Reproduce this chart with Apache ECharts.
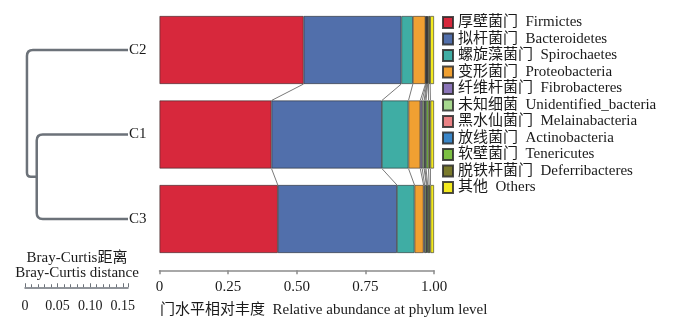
<!DOCTYPE html>
<html>
<head>
<meta charset="utf-8">
<script src="https://cdn.jsdelivr.net/npm/echarts@6/dist/echarts.min.js"></script>
<style>html,body{margin:0;padding:0;background:#fff;}#c{width:700px;height:324px;}</style>
</head>
<body>
<div id="c"></div>
<script>
// ---- data ----
const samples = ['C2', 'C1', 'C3'];
const phylumNames = [
  '厚壁菌门  Firmictes', '拟杆菌门  Bacteroidetes', '螺旋藻菌门  Spirochaetes',
  '变形菌门  Proteobacteria', '纤维杆菌门  Fibrobacteres', '未知细菌  Unidentified_bacteria',
  '黑水仙菌门  Melainabacteria', '放线菌门  Actinobacteria', '软壁菌门  Tenericutes',
  '脱铁杆菌门  Deferribacteres', '其他  Others'
];
const firmicutes      = [0.525, 0.408, 0.431];
const bacteroidetes   = [0.356, 0.402, 0.434];
const spirochaetes    = [0.042, 0.097, 0.064];
const proteobacteria  = [0.046, 0.043, 0.033];
const fibrobacteres   = [0.002, 0.007, 0.004];
const unidentified    = [0.002, 0.007, 0.006];
const melainabacteria = [0.002, 0.003, 0.002];
const actinobacteria  = [0.002, 0.004, 0.003];
const tenericutes     = [0.003, 0.009, 0.005];
const deferribacteres = [0.006, 0.007, 0.005];
const others          = [0.014, 0.013, 0.013];
const xTicks = ['0', '0.25', '0.50', '0.75', '1.00'];
const scaleTicks = ['0', '0.05', '0.10', '0.15'];
// dendrogram: C1 & C3 merge first, then C2 joins
const mergeC1C3 = 0.140;
const mergeRoot = 0.155;

const seriesValues = [firmicutes, bacteroidetes, spirochaetes, proteobacteria, fibrobacteres,
  unidentified, melainabacteria, actinobacteria, tenericutes, deferribacteres, others];
const colors = ['#d7283c', '#516fab', '#3fada4', '#f0a032', '#8a74b8', '#a6d88e',
  '#ea8285', '#3a86c8', '#7cc043', '#7a7a2c', '#f3ea1f'];

const FONT = "'Liberation Serif', 'Noto Sans CJK SC', serif";
const BARW = 68;

// connector data: cumulative boundaries between adjacent samples
const links = [];
for (let j = 0; j < samples.length - 1; j++) {
  let cu = 0, cl = 0;
  for (let k = 0; k < seriesValues.length - 1; k++) {
    cu += seriesValues[k][j];
    cl += seriesValues[k][j + 1];
    links.push([cu, cl, j, j + 1]);
  }
}

const series = seriesValues.map((vals, i) => ({
  name: phylumNames[i],
  type: 'bar',
  stack: 'total',
  barWidth: BARW,
  xAxisIndex: 0, yAxisIndex: 0,
  data: vals,
  itemStyle: { color: colors[i], borderColor: 'rgba(45,45,45,0.85)', borderWidth: 0.7 },
  emphasis: { disabled: true },
  silent: true
}));

series.push({
  type: 'custom',
  xAxisIndex: 0, yAxisIndex: 0,
  silent: true,
  data: links,
  encode: { x: [0, 1], y: [2, 3] },
  renderItem: function (params, api) {
    const a = api.coord([api.value(0), api.value(2)]);
    const b = api.coord([api.value(1), api.value(3)]);
    return {
      type: 'line',
      shape: { x1: a[0], y1: a[1] + BARW / 2, x2: b[0], y2: b[1] - BARW / 2 },
      style: { stroke: '#7a7a7a', lineWidth: 1 }
    };
  }
});

series.push({
  type: 'custom',
  xAxisIndex: 1, yAxisIndex: 1,
  silent: true,
  data: [[0, 0]],
  renderItem: function (params, api) {
    const r = 6;
    const c2 = api.coord([0, 0]);
    const c1 = api.coord([0, 1]);
    const c3 = api.coord([0, 2]);
    const x1 = api.coord([mergeC1C3, 1])[0];
    const x0 = api.coord([mergeRoot, 0])[0];
    const ym = (c1[1] + c3[1]) / 2;
    const p1 = `M${c1[0]},${c1[1]} L${x1 + r},${c1[1]} Q${x1},${c1[1]} ${x1},${c1[1] + r} L${x1},${c3[1] - r} Q${x1},${c3[1]} ${x1 + r},${c3[1]} L${c3[0]},${c3[1]}`;
    const r2 = 4;
    const p2 = `M${c2[0]},${c2[1]} L${x0 + r},${c2[1]} Q${x0},${c2[1]} ${x0},${c2[1] + r} L${x0},${ym - r2} Q${x0},${ym} ${x0 + r2},${ym} L${x1},${ym}`;
    const st = { stroke: '#6c7279', lineWidth: 2.5, fill: null };
    return {
      type: 'group',
      children: [
        { type: 'path', shape: { pathData: p1 }, style: st },
        { type: 'path', shape: { pathData: p2 }, style: st }
      ]
    };
  }
});

const chart = echarts.init(document.getElementById('c'), null, { renderer: 'canvas' });
chart.setOption({
  animation: false,
  backgroundColor: '#fff',
  textStyle: { fontFamily: FONT },
  grid: [
    { left: 159.5, top: 7.75, width: 274.5, height: 253.5 },
    { left: 25, top: 7.75, width: 103, height: 253.5 }
  ],
  xAxis: [
    {
      type: 'value', gridIndex: 0, min: 0, max: 1, interval: 0.25, offset: 9,
      axisLine: { show: true, lineStyle: { color: '#8c8c8c', width: 1.5 } },
      axisTick: { show: true, length: 4, lineStyle: { color: '#8c8c8c', width: 1.5 } },
      splitLine: { show: false },
      axisLabel: {
        margin: 9, fontSize: 15, color: '#1a1a1a', fontFamily: FONT,
        formatter: v => xTicks[Math.round(v / 0.25)] || ''
      }
    },
    {
      type: 'value', gridIndex: 1, min: 0, max: 0.158, inverse: true, show: false
    },
    {
      type: 'value', gridIndex: 1, min: 0, max: 0.158, interval: 0.05, offset: 26, position: 'bottom',
      axisLine: { show: true, lineStyle: { color: '#6c7279', width: 1.5 } },
      axisTick: { show: true, inside: true, length: 4, lineStyle: { color: '#6c7279', width: 1 } },
      minorTick: { show: true, splitNumber: 5, length: 3, lineStyle: { color: '#6c7279', width: 1 } },
      splitLine: { show: false }, minorSplitLine: { show: false },
      axisLabel: {
        margin: 12, fontSize: 14, color: '#1a1a1a', fontFamily: FONT,
        formatter: v => { const i = Math.round(v / 0.05); return Math.abs(v - i * 0.05) < 1e-6 ? (scaleTicks[i] || '') : ''; }
      }
    }
  ],
  yAxis: [
    {
      type: 'category', gridIndex: 0, data: samples, inverse: true, show: false
    },
    {
      type: 'category', gridIndex: 1, data: samples, inverse: true, position: 'right',
      axisLine: { show: false }, axisTick: { show: false }, splitLine: { show: false },
      axisLabel: { margin: 1, fontSize: 15, color: '#1a1a1a', fontFamily: FONT, align: 'left' }
    }
  ],
  legend: {
    data: phylumNames,
    orient: 'vertical', left: 442, top: 15, padding: 0,
    icon: 'rect', itemWidth: 10, itemHeight: 11, itemGap: 1.5,
    selectedMode: false,
    textStyle: { fontSize: 15, lineHeight: 15, color: '#1a1a1a', fontFamily: FONT }
  },
  graphic: [
    { type: 'text', left: 160, top: 303, style: { text: '门水平相对丰度  Relative abundance at phylum level', font: "15px 'Liberation Serif', 'Noto Sans CJK SC', serif", fill: '#1a1a1a' } },
    { type: 'text', x: 77, y: 258, style: { text: 'Bray-Curtis距离', font: "15px 'Liberation Serif', 'Noto Sans CJK SC', serif", fill: '#1a1a1a', textAlign: 'center', textVerticalAlign: 'middle' } },
    { type: 'text', x: 77, y: 273, style: { text: 'Bray-Curtis distance', font: "15px 'Liberation Serif', 'Noto Sans CJK SC', serif", fill: '#1a1a1a', textAlign: 'center', textVerticalAlign: 'middle' } }
  ],
  series: series
});
</script>
</body>
</html>
